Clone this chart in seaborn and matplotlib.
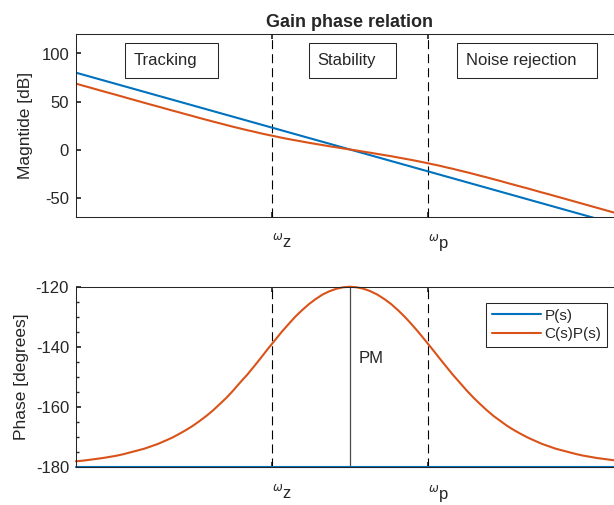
import pandas as pd
import seaborn as sns
import matplotlib.pyplot as plt
from matplotlib.patches import Rectangle
from matplotlib.ticker import MultipleLocator, NullLocator, FixedLocator

# --- datos ---
freq = [0.01, 0.0112, 0.0126, 0.0141, 0.0158, 0.0178, 0.02, 0.0224, 0.0251, 0.0282,
        0.0316, 0.0355, 0.0398, 0.0447, 0.0501, 0.0562, 0.0631, 0.0708, 0.0794, 0.0891,
        0.1, 0.112, 0.126, 0.141, 0.158, 0.178, 0.2, 0.224, 0.251, 0.282,
        0.316, 0.355, 0.398, 0.447, 0.501, 0.562, 0.631, 0.708, 0.794, 0.891,
        1.0, 1.12, 1.26, 1.41, 1.58, 1.78, 2.0, 2.24, 2.51, 2.82,
        3.16, 3.55, 3.98, 4.47, 5.01, 5.62, 6.31, 7.08, 7.94, 8.91,
        10.0, 11.2, 12.6, 14.1, 15.8, 17.8, 20.0, 22.4, 25.1, 28.2,
        31.6, 35.5, 39.8, 44.7, 50.1, 56.2, 63.1, 70.8, 79.4, 89.1, 100.0]
cp_mag = [68.6, 66.6, 64.6, 62.6, 60.6, 58.6, 56.6, 54.6, 52.6, 50.6,
          48.6, 46.6, 44.7, 42.7, 40.7, 38.8, 36.8, 34.9, 32.9, 31.0,
          29.1, 27.3, 25.4, 23.6, 21.9, 20.1, 18.5, 16.8, 15.3, 13.8,
          12.3, 10.9, 9.6, 8.3, 7.0, 5.8, 4.6, 3.4, 2.3, 1.1,
          0.0, -1.1, -2.3, -3.4, -4.6, -5.8, -7.0, -8.3, -9.6, -10.9,
          -12.3, -13.8, -15.3, -16.8, -18.5, -20.1, -21.9, -23.6, -25.4, -27.3,
          -29.1, -31.0, -32.9, -34.9, -36.8, -38.8, -40.7, -42.7, -44.7, -46.6,
          -48.6, -50.6, -52.6, -54.6, -56.6, -58.6, -60.6, -62.6, -64.6, -66.6, -68.6]
cp_phase = [-178.0, -177.8, -177.5, -177.2, -176.9, -176.5, -176.1, -175.6, -175.0, -174.4,
            -173.8, -173.0, -172.2, -171.2, -170.2, -169.0, -167.7, -166.3, -164.7, -163.0,
            -161.1, -159.0, -156.8, -154.4, -151.8, -149.2, -146.4, -143.6, -140.7, -137.9,
            -135.1, -132.5, -130.0, -127.8, -125.8, -124.1, -122.6, -121.5, -120.7, -120.2,
            -120.0, -120.2, -120.7, -121.5, -122.6, -124.1, -125.8, -127.8, -130.0, -132.5,
            -135.1, -137.9, -140.7, -143.6, -146.4, -149.2, -151.8, -154.4, -156.8, -159.0,
            -161.1, -163.0, -164.7, -166.3, -167.7, -169.0, -170.2, -171.2, -172.2, -173.0,
            -173.8, -174.4, -175.0, -175.6, -176.1, -176.5, -176.9, -177.2, -177.5, -177.8, -178.0]
p_freq = [0.01, 100.0]
p_mag = [80, -80]
p_phase = [-180, -180]

omega_z = 0.268
omega_p = 3.73
omega_c = 1.0
corner_labels = [r'$^{\omega}$z', r'$^{\omega}$p']
regions = ['Tracking', 'Stability', 'Noise rejection']
systems = ['P(s)', 'C(s)P(s)']

df = pd.concat([
    pd.DataFrame({'freq': p_freq, 'mag': p_mag, 'phase': p_phase, 'sys': systems[0]}),
    pd.DataFrame({'freq': freq, 'mag': cp_mag, 'phase': cp_phase, 'sys': systems[1]}),
])

# estilo tipo MATLAB
sns.set_theme(style='ticks', rc={
    'xtick.direction': 'in', 'ytick.direction': 'in',
    'axes.edgecolor': '#262626', 'axes.linewidth': 0.75,
    'xtick.color': '#262626', 'ytick.color': '#262626',
    'ytick.major.size': 3.6, 'ytick.minor.size': 2, 'xtick.major.size': 3.6,
    'ytick.major.pad': 5, 'xtick.major.pad': 11,
    'lines.scale_dashes': False,
    'axes.unicode_minus': False,
})
plt.rcParams['font.family'] = ['Liberation Sans', 'DejaVu Sans']
plt.rcParams['mathtext.fontset'] = 'dejavusans'

palette = {'P(s)': '#0072BD', 'C(s)P(s)': '#D95319'}
W, H = 614, 505
fs = 12
fig = plt.figure(figsize=(W / 100, H / 100), dpi=100)
ax1 = fig.add_axes([76 / W, 1 - 216.7 / H, 548 / W, 182.4 / H])
ax2 = fig.add_axes([76 / W, 1 - 467.3 / H, 548 / W, 180.6 / H])

sns.lineplot(data=df, x='freq', y='mag', hue='sys', palette=palette, lw=1.5,
             sort=False, legend=False, ax=ax1)
sns.lineplot(data=df, x='freq', y='phase', hue='sys', palette=palette, lw=1.5,
             sort=False, ax=ax2)
for ln in ax2.lines:
    ln.set_clip_on(False)

for ax in (ax1, ax2):
    ax.set_xscale('log')
    ax.set_xlim(freq[0], freq[-1])
    for w in (omega_z, omega_p):
        ax.axvline(w, color='black', lw=0.8, ls=(0, (6.5, 3.6)), zorder=1)
    ax.xaxis.set_major_locator(FixedLocator([omega_z, omega_p]))
    ax.xaxis.set_minor_locator(NullLocator())
    ax.set_xticklabels(corner_labels, fontsize=fs, ha='left')
    ax.set_xlabel('')
    ax.tick_params(axis='y', labelsize=fs, labelcolor='#262626')
    ax.tick_params(axis='x', labelcolor='#262626')
    ax.tick_params(which='both', top=True)
    sns.despine(ax=ax, top=False, right=True)

ax1.set_ylim(-70, 120)
ax1.set_yticks([-50, 0, 50, 100])
ax1.set_ylabel('Magntide [dB]', fontsize=12.5, color='#262626')
ax1.yaxis.set_label_coords(-0.078, 0.5)
ax1.set_title('Gain phase relation', fontsize=13, fontweight='bold', pad=5)

ax2.set_ylim(-180, -120)
ax2.set_yticks([-180, -160, -140, -120])
ax2.yaxis.set_minor_locator(MultipleLocator(5))
ax2.set_ylabel('Phase [degrees]', fontsize=12.5, color='#262626')
ax2.yaxis.set_label_coords(-0.085, 0.5)
ax2.vlines(omega_c, min(p_phase), max(cp_phase), color='#4a4a4a', lw=0.9, zorder=1)
ax2.text(1.15, -143.7, 'PM', fontsize=fs, va='center', ha='left')

handles, labels = ax2.get_legend_handles_labels()
leg = ax2.legend(handles, labels, loc='upper right', bbox_to_anchor=(606.7 / W, 1 - 303.3 / H),
                 bbox_transform=fig.transFigure, borderaxespad=0, fontsize=11,
                 handlelength=3.2, handletextpad=0.25, borderpad=0.35, labelspacing=0.3,
                 fancybox=False, framealpha=1, edgecolor='#262626')
leg.get_frame().set_linewidth(0.75)
for lh in leg.get_lines():
    lh.set_linewidth(1.5)

# cajas de texto de las zonas
boxes = [(125, 218), (308.7, 396.3), (457.3, 597.3)]
for name, (x0, x1) in zip(regions, boxes):
    fig.add_artist(Rectangle((x0 / W, 1 - 77.7 / H), (x1 - x0) / W, 34.4 / H,
                             transform=fig.transFigure, fill=False, ec='#262626', lw=0.75))
    fig.text((x0 + 8.7) / W, 1 - 60.5 / H, name, fontsize=fs, va='center', ha='left')

fig.savefig('out.png', dpi=100)
